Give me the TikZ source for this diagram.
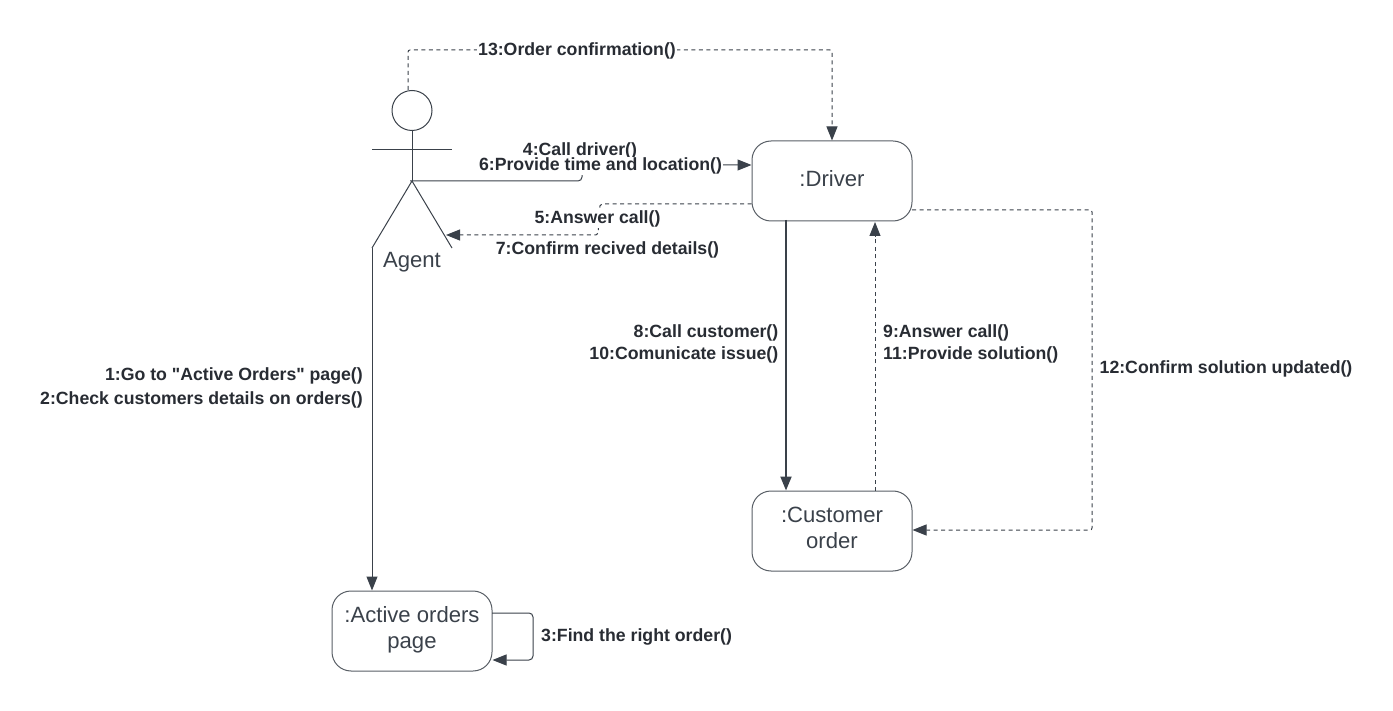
\documentclass[tikz,border=0pt]{standalone}
\usepackage{fontspec}
\setmainfont{Liberation Sans}[Ligatures=TeXOff]
\usetikzlibrary{arrows.meta}
\definecolor{ink}{HTML}{3A414A}
\definecolor{txt}{HTML}{282C33}
\tikzset{
  box/.style={draw=ink!85!white,line width=1pt,rounded corners=19pt,minimum width=160pt,minimum height=80pt,inner sep=0pt},
  boxtext/.style={text=ink,font=\fontsize{22.1}{26}\selectfont,inner sep=0pt,align=center},
  lab/.style={fill=white,inner sep=1pt,text=txt,font=\fontsize{17.7}{18}\selectfont\bfseries},
  labn/.style={inner sep=1pt,text=txt,font=\fontsize{17.7}{18}\selectfont\bfseries},
  line/.style={draw=ink,line width=1pt},
  tip/.style={-{Triangle[length=14pt,width=11pt,fill=ink]}},
  solidc/.style={line,tip,rounded corners=4pt},
  dashc/.style={line,tip,rounded corners=2pt,dash pattern=on 4pt off 3.5pt},
}
\begin{document}
\begin{tikzpicture}[x=1pt,y=-1pt]
\useasboundingbox (0,0) rectangle (1393,711);
% actor
\node[circle,draw=ink,line width=1pt,minimum size=40pt,inner sep=0pt] (head) at (412,110.5) {};
\coordinate (hip) at (410,181);
\coordinate (crotch) at (412,181);
\coordinate (armL) at (372,150);
\coordinate (armR) at (452,150);
\coordinate (legL) at (372,248);
\coordinate (legR) at (452,248);
\coordinate (headtop) at (408,90);
\draw[line] (head.south) -- (crotch);
\draw[line] (armL) -- (armR);
\draw[line] (crotch) -- (legL);
\draw[line] (crotch) -- (legR);
\node[boxtext] (agent) at (412,262) {Agent};
% boxes
\node[box] (driver) at (832,181) {};
\node[boxtext] (drivertext) at (832,178.5) {:Driver};
\node[box] (customer) at (832,531) {};
\node[boxtext] (customertext) at (832,527.5) {:Customer\\order};
\node[box] (active) at (412,631) {};
\node[boxtext] (activetext) at (412,629.5) {:Active orders\\page};
% connectors
\draw[solidc] (legL) -- (active.north -| legL);
\draw[solidc] (hip) -- (582,181) -- (582,165) -- (driver.west |- 0,165);
\draw[dashc] (driver.west |- 0,204) -- (600,204) -- (598,235) -- (446,235);
\draw[dashc] (headtop) -- (408,50) -- (832,50) -- (driver.north);
\draw[solidc,line width=2pt,rounded corners=0pt] (786,220) -- (customer.north -| 786,0);
\draw[dashc] (875,491) -- (875,222);
\draw[dashc] (912,210) -- (1092,210) -- (1092,530) -- (customer.east |- 0,530);
\draw[solidc] (492,613) -- (533,613) -- (533,660) -- (active.east |- 0,660);
% labels
\node[lab] (l13) at (577,51) {13:Order confirmation()};
\node[labn] (l4) at (580,151) {4:Call driver()};
\node[lab] (l6) at (600.5,166) {6:Provide time and location()};
\node[lab] (l5) at (597.5,219) {5:Answer call()};
\node[lab] (l7) at (607.5,250) {7:Confirm recived details()};
\node[lab,anchor=east] (l8) at (779.5,333) {8:Call customer()};
\node[lab,anchor=east] (l10) at (779.5,355) {10:Comunicate issue()};
\node[lab,anchor=west] (l9) at (882,333) {9:Answer call()};
\node[lab,anchor=west] (l11) at (882,355) {11:Provide solution()};
\node[lab] (l12) at (1226,369) {12:Confirm solution updated()};
\node[lab,anchor=east] (l1) at (364,376) {1:Go to "Active Orders" page()};
\node[lab,anchor=east] (l2) at (364,400) {2:Check customers details on orders()};
\node[lab,anchor=west] (l3) at (540,637) {3:Find the right order()};
\end{tikzpicture}
\end{document}
